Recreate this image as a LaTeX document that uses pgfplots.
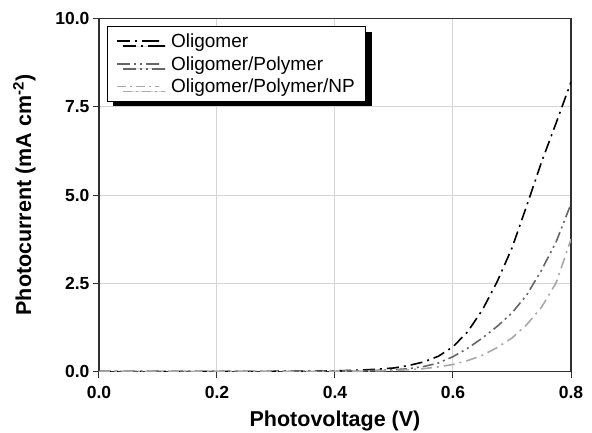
\documentclass[border=0pt]{standalone}
\usepackage{pgfplots}
\pgfplotsset{compat=1.18}
\usepackage{fontspec}
\setmainfont{Liberation Sans}
\usetikzlibrary{shadows}

\definecolor{gridgray}{HTML}{D4D4D4}
\definecolor{framegray}{HTML}{303030}
\definecolor{polygray}{HTML}{666666}
\definecolor{npgray}{HTML}{A8A8A8}

\pgfplotstableread{
V I
0.000 0.000
0.050 0.000
0.100 0.000
0.150 0.000
0.200 0.000
0.250 0.003
0.300 0.006
0.350 0.010
0.400 0.020
0.425 0.030
0.450 0.045
0.475 0.070
0.500 0.100
0.525 0.170
0.550 0.270
0.575 0.430
0.600 0.700
0.625 1.130
0.650 1.750
0.675 2.550
0.700 3.500
0.725 4.700
0.750 5.930
0.775 7.050
0.800 8.200
}\oligomer

\pgfplotstableread{
V I
0.000 0.000
0.050 0.000
0.100 0.000
0.150 0.000
0.200 0.000
0.250 0.002
0.300 0.004
0.350 0.007
0.400 0.012
0.450 0.020
0.475 0.035
0.500 0.050
0.525 0.080
0.550 0.140
0.575 0.240
0.600 0.420
0.625 0.660
0.650 0.950
0.675 1.280
0.700 1.660
0.725 2.170
0.750 2.870
0.775 3.680
0.800 4.750
}\polymer

\pgfplotstableread{
V I
0.000 0.000
0.050 0.000
0.100 0.000
0.150 0.000
0.200 0.000
0.250 0.001
0.300 0.002
0.350 0.004
0.400 0.007
0.450 0.010
0.500 0.030
0.525 0.050
0.550 0.080
0.575 0.130
0.600 0.200
0.625 0.310
0.650 0.460
0.675 0.680
0.700 0.950
0.725 1.330
0.750 1.820
0.775 2.520
0.800 3.750
}\np

\begin{document}
\begin{tikzpicture}
\path[use as bounding box] (-99pt,-60.5pt) rectangle (493pt,371.5pt);
\begin{axis}[
  at={(0,0)}, anchor=south west,
  scale only axis,
  width=472pt, height=353pt,
  xmin=0, xmax=0.8, ymin=0, ymax=10,
  xtick={0,0.2,0.4,0.6,0.8},
  ytick={0,2.5,5,7.5,10},
  tick pos=left,
  tick align=outside,
  major tick length=6pt,
  every tick/.style={framegray, line width=1pt},
  axis line style={framegray, line width=1.5pt},
  grid=major,
  major grid style={gridgray, line width=1pt},
  /pgf/number format/assume math mode=true,
  /pgf/number format/fixed,
  /pgf/number format/fixed zerofill,
  /pgf/number format/precision=1,
  tick label style={font=\fontsize{17.5}{19}\selectfont\bfseries},
  xticklabel style={yshift=-5pt},
  yticklabel style={xshift=0pt},
  xlabel={Photovoltage (V)},
  ylabel={Photocurrent (mA cm\textsuperscript{-2})},
  label style={font=\fontsize{21.5}{25}\selectfont\bfseries},
  xlabel style={at={(axis description cs:0.5,-0.141)}, anchor=center},
  ylabel style={at={(axis description cs:-0.158,0.5)}, anchor=center, rotate=0},
  legend cell align=left,
  legend image code/.code={\draw[#1] (0pt,0pt) -- (42pt,0pt);},
  legend style={
    at={(axis description cs:0,1)}, anchor=north west,
    xshift=8pt, yshift=-7.5pt,
    draw=black, line width=1pt, fill=white,
    inner xsep=9pt, inner ysep=5pt,
    nodes={inner sep=2pt},
    row sep=3.5pt,
    font=\fontsize{19}{22}\selectfont,
    drop shadow={shadow xshift=6pt, shadow yshift=-5pt, fill=black, opacity=1},
    /tikz/every odd column/.append style={column sep=9pt},
  },
]
\addlegendimage{black, line width=1.6pt, dash pattern=on 13pt off 5pt on 2pt off 5pt on 17pt off 0pt}
\addlegendentry{Oligomer}
\addlegendimage{polygray, line width=1.6pt, dash pattern=on 13pt off 4pt on 2pt off 4pt on 2pt off 4pt on 13pt off 0pt}
\addlegendentry{Oligomer/Polymer}
\addlegendimage{npgray, line width=1.6pt, dash pattern=on 9pt off 4pt on 2pt off 4pt on 9pt off 4pt on 2pt off 4pt on 4pt off 0pt}
\addlegendentry{Oligomer/Polymer/NP}
\addplot[black, line width=1.6pt, dash pattern=on 12pt off 5pt on 2pt off 5pt, forget plot] table[x=V,y=I]{\oligomer};
\addplot[polygray, line width=1.6pt, dash pattern=on 11pt off 4pt on 2pt off 4pt on 2pt off 4pt, forget plot] table[x=V,y=I]{\polymer};
\addplot[npgray, line width=1.6pt, dash pattern=on 11pt off 5pt on 2pt off 5pt, forget plot] table[x=V,y=I]{\np};
\end{axis}
\end{tikzpicture}
\end{document}
